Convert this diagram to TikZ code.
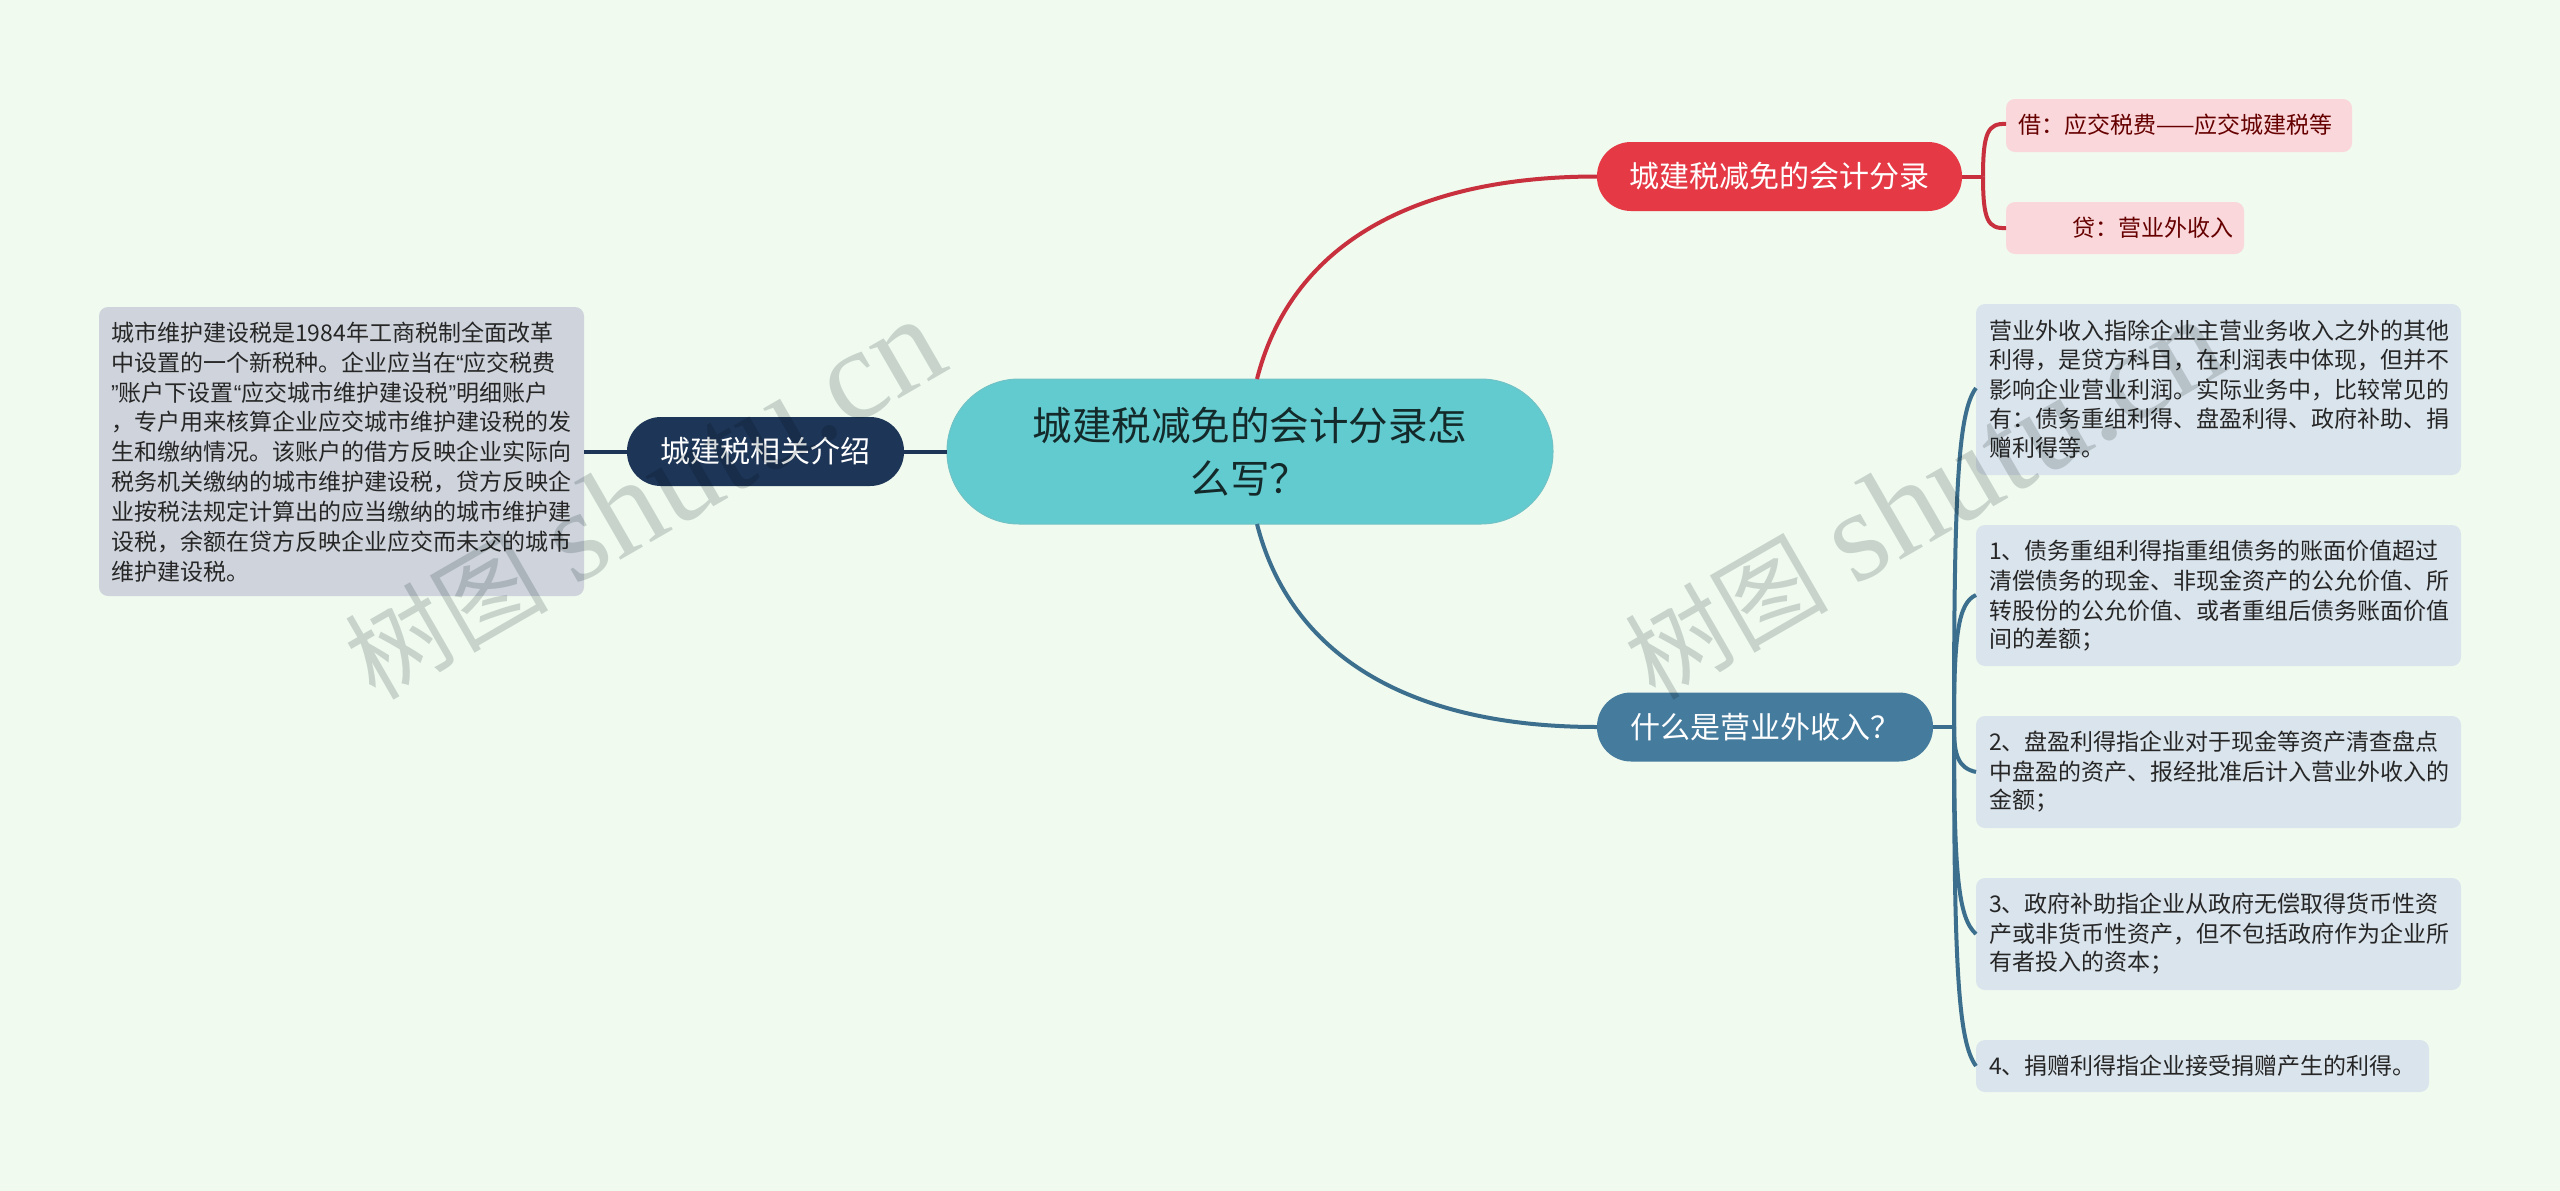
\documentclass[tikz,border=0pt]{standalone}
\usepackage{fontspec}
\setmainfont{Noto Sans CJK SC}
\newfontfamily\wmlatin{Liberation Serif}
\newfontfamily\qfont{Liberation Sans}
\usetikzlibrary{calc}
\definecolor{bgc}{HTML}{F0FAEF}
\definecolor{rootc}{HTML}{62CBCF}
\definecolor{redc}{HTML}{E63946}
\definecolor{redl}{HTML}{C8303E}
\definecolor{bluec}{HTML}{457B9D}
\definecolor{bluel}{HTML}{3C6F8E}
\definecolor{darkc}{HTML}{1D3557}
\definecolor{pinkc}{HTML}{FAD7DA}
\definecolor{paleb}{HTML}{DAE4EC}
\definecolor{paleg}{HTML}{CFD4DC}
\definecolor{wmc}{HTML}{D5D9D9}
\newcommand{\ql}{{\qfont “}}
\newcommand{\qr}{{\qfont ”}}
\tikzset{
  x=1pt,y=-1pt,
  txt/.style={inner sep=0pt,anchor=west,font=\fontsize{23}{29}\selectfont,text=black!85},
  link/.style={line width=4pt,line cap=butt},
  mm/.style={inner sep=0pt,outer sep=0pt,minimum height=69pt,font=\fontsize{30}{36}\selectfont,text=white},
  wm/.style={inner sep=0pt,text=wmc,rotate=30,anchor=base west}
}
\newcommand{\bx}[6]{\path[fill=#6,rounded corners=9pt] (#2,#3) rectangle (#4,#5) node[pos=.5,inner sep=0pt] (#1) {};
  \coordinate (#1w) at (#2,#3);}
\newcommand{\wmtext}{{\fontsize{102}{102}\selectfont 树图}\hspace{26pt}{\wmlatin\fontsize{130}{130}\selectfont shutu.cn}}
\begin{document}
\begin{tikzpicture}
\useasboundingbox (0,0) rectangle (2560,1191);
\fill[bgc] (0,0) rectangle (2560,1191);
% root
\node[draw=rootc!90!black!85,line width=1pt,fill=rootc,rounded corners=72pt,minimum width=606pt,minimum height=145pt,inner sep=0pt,outer sep=0pt] (root) at (1250,451.5) {};
\node[inner sep=0pt,text=black!80!rootc,font=\fontsize{39.5}{53}\selectfont] (rt1) at (1250,425) {城建税减免的会计分录怎};
\node[inner sep=0pt,text=black!80!rootc,font=\fontsize{39.5}{53}\selectfont] (rt2) at (1250,478) {么写？};
% mid nodes
\node[mm,fill=redc,rounded corners=34pt,minimum width=365pt] (red) at (1779.5,176.5) {城建税减免的会计分录};
\node[mm,fill=bluec,rounded corners=34pt,minimum width=336pt] (blue) at (1765,727) {什么是营业外收入？};
\node[mm,fill=darkc,rounded corners=34pt,minimum width=277pt] (dark) at (765.5,451.5) {城建税相关介绍};
% leaves
\bx{p1}{2006}{99}{2352}{152}{pinkc}
\bx{p2}{2006}{202}{2244}{254}{pinkc}
\bx{b0}{1976}{304}{2461}{475}{paleb}
\bx{b1}{1976}{525}{2461}{666}{paleb}
\bx{b2}{1976}{716}{2461}{828}{paleb}
\bx{b3}{1976}{878}{2461}{990}{paleb}
\bx{b4}{1976}{1040}{2429}{1092}{paleb}
\bx{g}{99}{307}{584}{596}{paleg}
% connectors
\draw[link,redl] ([xshift=7pt]root.north) .. controls +(33,-130) and +(-190,0) .. (red.west);
\draw[link,bluel] ([xshift=7pt]root.south) .. controls +(33,130) and +(-190,0) .. (blue.west);
\draw[link,darkc] (dark.east) -- (root.west);
\draw[link,darkc] (dark.west) -- (g.center -| 584,0);
\draw[link,redl] (red.east) -- +(21,0) coordinate (rs);
\draw[link,redl] (rs) .. controls +(0,-44) and +(-18,-1) .. (p1w |- 0,124);
\draw[link,redl] (rs) .. controls +(0,44) and +(-18,1) .. (p2w |- 0,228);
\draw[link,bluel] (blue.east) -- +(21,0) coordinate (bs);
\draw[link,bluel] (bs) .. controls +(0,-237) and +(-18,24) .. (b0w |- 0,388);
\draw[link,bluel] (bs) .. controls +(0,-92) and +(-18,8) .. (b1w |- 0,595);
\draw[link,bluel] (bs) .. controls +(0,28) and +(-18,-4) .. (b2w |- 0,772);
\draw[link,bluel] (bs) .. controls +(0,146) and +(-18,-16) .. (b3w |- 0,934);
\draw[link,bluel] (bs) .. controls +(0,238) and +(-18,-24) .. (b4w |- 0,1066);
% texts
\node[txt,text=red!40!black] (t1) at (2018,125) {借：应交税费——应交城建税等};
\node[txt,text=red!40!black] (t2) at (2072,228) {贷：营业外收入};
\foreach \y/\s in {331/营业外收入指除企业主营业务收入之外的其他,360/利得，是贷方科目，在利润表中体现，但并不,389.5/影响企业营业利润。实际业务中，比较常见的,419/有：债务重组利得、盘盈利得、政府补助、捐,448/赠利得等。,
  551/1、债务重组利得指重组债务的账面价值超过,581/清偿债务的现金、非现金资产的公允价值、所,611/转股份的公允价值、或者重组后债务账面价值,640/间的差额；,
  742/2、盘盈利得指企业对于现金等资产清查盘点,772/中盘盈的资产、报经批准后计入营业外收入的,801/金额；,
  904/3、政府补助指企业从政府无偿取得货币性资,934/产或非货币性资产，但不包括政府作为企业所,963/有者投入的资本；,
  1066/4、捐赠利得指企业接受捐赠产生的利得。}
  {\node[txt] at (1989,\y) {\s};}
\foreach \y/\s in {333/城市维护建设税是1984年工商税制全面改革,363/中设置的一个新税种。企业应当在\ql 应交税费,392.5/\qr 账户下设置\ql 应交城市维护建设税\qr 明细账户,422/，专户用来核算企业应交城市维护建设税的发,452/生和缴纳情况。该账户的借方反映企业实际向,482/税务机关缴纳的城市维护建设税，贷方反映企,512/业按税法规定计算出的应当缴纳的城市维护建,542/设税，余额在贷方反映企业应交而未交的城市,572/维护建设税。}
  {\node[txt] at (111,\y) {\s};}
% watermarks
\begin{scope}[blend mode=multiply]
\node[wm] (wm1) at (375,702) {\wmtext};
\node[wm] (wm2) at (1655,702) {\wmtext};
\end{scope}
\end{tikzpicture}
\end{document}
